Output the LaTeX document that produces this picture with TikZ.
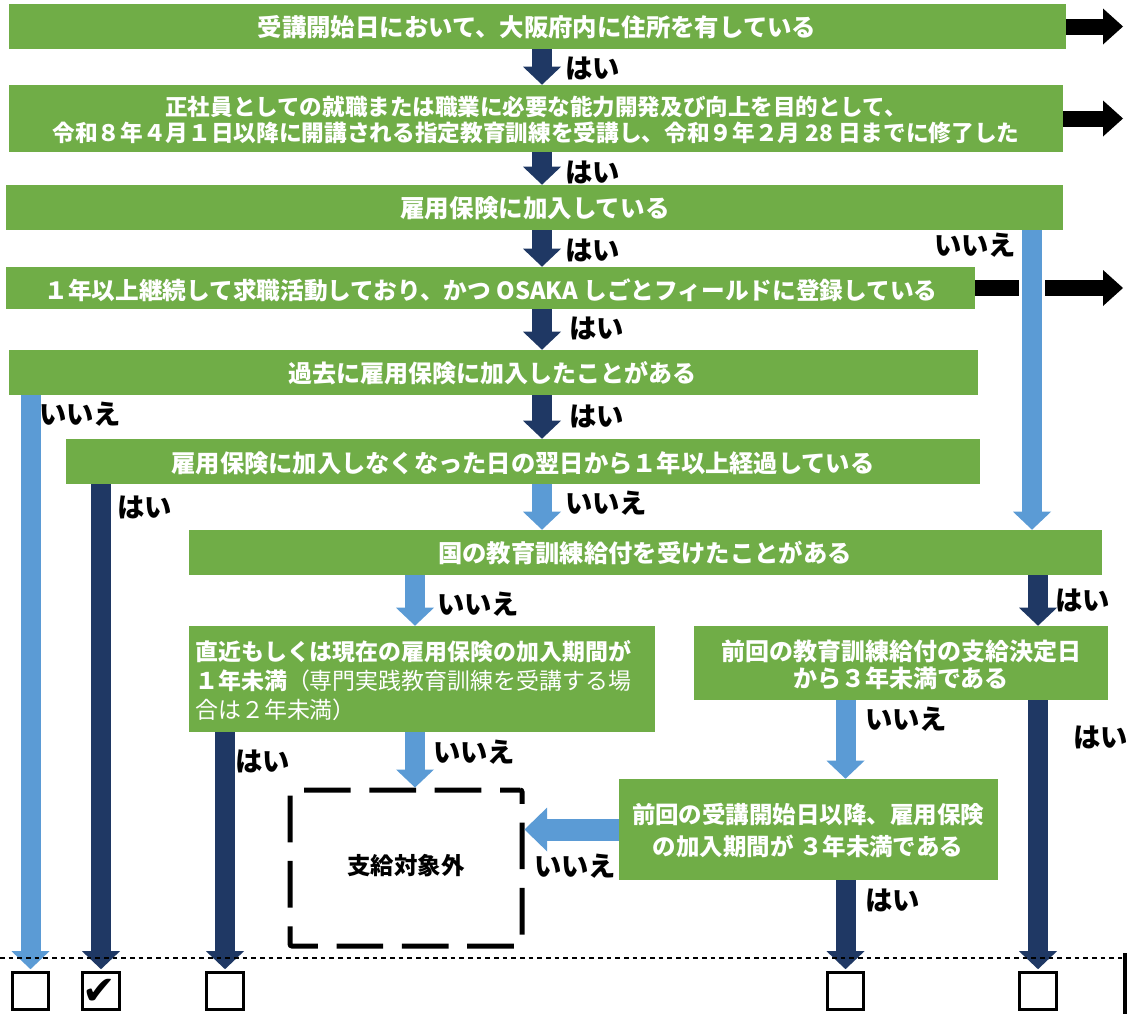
\documentclass[tikz,border=0pt]{standalone}
\usepackage{fontspec}
\setmainfont{Noto Sans CJK JP}
\newfontfamily\dejavu{DejaVu Sans}
\usetikzlibrary{arrows.meta,fit}
\definecolor{gr}{HTML}{70AD47}
\definecolor{nv}{HTML}{1F3864}
\definecolor{lb}{HTML}{5B9BD5}
\newcommand{\fs}[2]{\bfseries\fontsize{#1}{#2}\selectfont}
\begin{document}
\begin{tikzpicture}[x=0.75pt,y=-0.75pt,
  gbox/.style={fill=gr, draw=none, inner sep=0pt},
  wt/.style={inner sep=0pt, text=white, align=center},
  darr/.style={draw=nv, line width=15pt, -{Triangle[width=28.5pt,length=13.5pt,line width=0pt]}},
  larr/.style={darr, draw=lb},
  barr/.style={draw=black, line width=12pt, -{Triangle[width=27pt,length=15pt,line width=0pt]}},
  lab/.style={anchor=west, inner sep=0pt, font=\fs{20.5}{24}},
  chk/.style={draw=black, line width=2.2pt, minimum size=27.5pt, inner sep=0pt},
  dbox/.style={draw=black, line width=3.75pt, rounded corners=1.5pt, dash pattern=on 35pt off 14pt, dash phase=20pt, inner sep=0pt}
]
\useasboundingbox (0,0) rectangle (1128,1014);
% column coordinates
\coordinate (cM) at (542,0);
\coordinate (cF) at (1032,0);
\coordinate (cG) at (415,0);
\coordinate (cR) at (1123,0);
% boxes
\node[gbox, fit={(9,4)(1066,49)}] (b1) {};
\node[gbox, fit={(9,85)(1063,152)}] (b2) {};
\node[gbox, fit={(6,185)(1063,230)}] (b3) {};
\node[gbox, fit={(6,267)(975,309)}] (b4) {};
\node[gbox, fit={(9,350)(978,395)}] (b5) {};
\node[gbox, fit={(66,439)(980,484)}] (b6) {};
\node[gbox, fit={(189,530)(1102,575)}] (b7) {};
\node[gbox, fit={(189,626)(655,732)}] (b8) {};
\node[gbox, fit={(694,626)(1108,700)}] (b9) {};
\node[gbox, fit={(619,779)(998,880)}] (b10) {};
\node[dbox, fit={(290,790)(522,946)}] (nb) {};
% box texts
\node[wt, font=\fs{18.3}{22}] (t1) at (537,27) {受講開始日において、大阪府内に住所を有している};
\node[wt, font=\fs{16.9}{19.5}] (t2) at (536,120)
  {正社員としての就職または職業に必要な能力開発及び向上を目的として、\\{\fontsize{17}{19.5}\selectfont 令和８年４月１日以降に開講される指定教育訓練を受講し、令和９年２月 28 日までに修了した}};
\node[wt, font=\fs{18.4}{22}] (t3) at (535,208) {雇用保険に加入している};
\node[wt, font=\fs{17.75}{22}] (t4) at (491,290) {１年以上継続して求職活動しており、かつ OSAKA しごとフィールドに登録している};
\node[wt, font=\fs{18}{22}] (t5) at (492,373) {過去に雇用保険に加入したことがある};
\node[wt, font=\fs{18.2}{22}] (t6) at (523,463) {雇用保険に加入しなくなった日の翌日から１年以上経過している};
\node[wt, font=\fs{18.25}{22}] (t7) at (645,553) {国の教育訓練給付を受けたことがある};
\node[wt, align=left, anchor=west, font=\fs{17.2}{21.75}] (t8) at (195,681)
  {直近もしくは現在の雇用保険の加入期間が\\１年未満{\mdseries （専門実践教育訓練を受講する場}\\{\mdseries 合は２年未満）}};
\node[wt, font=\fs{18}{20.25}] (t9) at (901,665) {前回の教育訓練給付の支給決定日\\から３年未満である};
\node[wt, font=\fs{17.6}{24}] (t10) at (808,831) {前回の受講開始日以降、雇用保険\\の加入期間が ３年未満である};
\node[inner sep=0pt, font=\fs{17.6}{20}] (nbt) at (406,866) {支給対象外};
% check boxes
\node[chk] (k1) at (30.5,991) {};
\node[chk] (k2) at (101,991) {};
\node[inner sep=0pt, font=\dejavu\fontsize{30}{32}\selectfont] (ck) at (99,992) {✔};
\node[chk] (k3) at (225,991) {};
\node[chk] (k4) at (845.5,991) {};
\node[chk] (k5) at (1038,991) {};
% black right arrows
\draw[barr] (b1.east) -- (b1.east -| cR);
\draw[barr] (b2.east) -- (b2.east -| cR);
\draw[barr] (b4.east) -- (b4.east -| cR);
\fill[white] (1019,268) rectangle (1045,306);
% vertical arrows
\draw[darr] (b1.south -| cM) -- (b2.north -| cM);
\draw[darr] (b2.south -| cM) -- (b3.north -| cM);
\draw[darr] (b3.south -| cM) -- (b4.north -| cM);
\draw[darr] (b4.south -| cM) -- (b5.north -| cM);
\draw[darr] (b5.south -| cM) -- (b6.north -| cM);
\draw[larr] (b6.south -| cM) -- (b7.north -| cM);
\draw[larr] (b3.south -| cF) -- (b7.north -| cF);
\draw[larr] (b5.south -| k1) -- ([yshift=1.5pt]k1.north);
\draw[darr] (b6.south -| k2) -- ([yshift=1.5pt]k2.north);
\draw[larr] (b7.south -| cG) -- (b8.north -| cG);
\draw[darr] (b7.south -| k5) -- (b9.north -| k5);
\draw[darr] (b8.south -| k3) -- ([yshift=1.5pt]k3.north);
\draw[larr] (b8.south -| cG) -- (nb.north -| cG);
\draw[larr] (b9.south -| k4) -- (b10.north -| k4);
\draw[darr] (b9.south -| k5) -- ([yshift=1.5pt]k5.north);
\draw[darr] (b10.south -| k4) -- ([yshift=1.5pt]k4.north);
\draw[draw=lb, line width=16.5pt, -{Triangle[width=33pt,length=17pt,line width=0pt]}] (b10.west) -- (b10.west -| nb.east);
% bottom line
\coordinate (dl) at (0,958);
\coordinate (dr) at (1122,958);
\draw[line width=1pt, dash pattern=on 3.5pt off 3pt] (dl) -- (dr);
\coordinate (vt) at (1125,953);
\coordinate (vb) at (1125,1014);
\draw[line width=3pt] (vt) -- (vb);
% labels
\node[lab] (l1) at (565,68) {はい};
\node[lab] (l2) at (565,172) {はい};
\node[lab] (l3) at (565,250) {はい};
\node[lab] (l4) at (934,245) {いいえ};
\node[lab] (l5) at (569,328) {はい};
\node[lab] (l6) at (39,414) {いいえ};
\node[lab] (l7) at (569,416) {はい};
\node[lab] (l8) at (117,507) {はい};
\node[lab] (l9) at (565,503) {いいえ};
\node[lab] (l10) at (437,604) {いいえ};
\node[lab] (l11) at (1055,600) {はい};
\node[lab] (l12) at (235,761) {はい};
\node[lab] (l13) at (433,752) {いいえ};
\node[lab] (l14) at (865,719) {いいえ};
\node[lab] (l15) at (1073,737) {はい};
\node[lab] (l16) at (534,866) {いいえ};
\node[lab] (l17) at (865,900) {はい};
\end{tikzpicture}
\end{document}
